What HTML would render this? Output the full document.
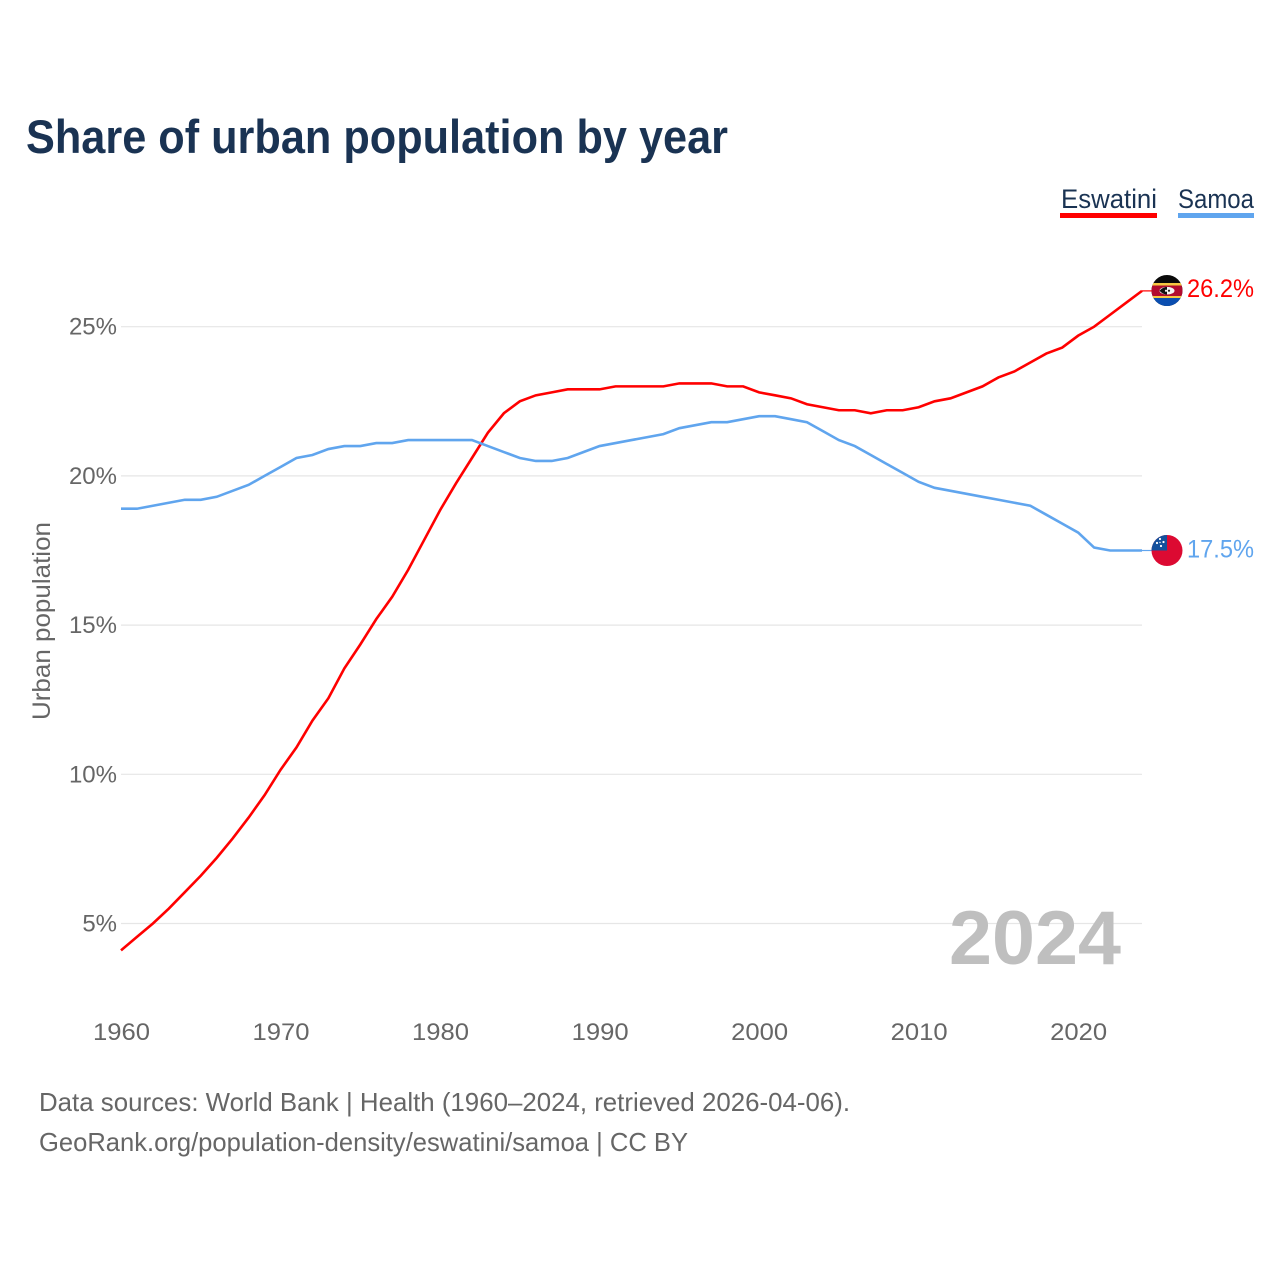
<!DOCTYPE html>
<html>
<head>
<meta charset="utf-8">
<title>Share of urban population by year</title>
<style>
html,body{margin:0;padding:0;background:#fff;width:1280px;height:1280px;overflow:hidden}
svg{display:block}
text{font-family:"Liberation Sans",sans-serif}
</style>
</head>
<body>
<svg id="chart" xmlns="http://www.w3.org/2000/svg" width="1280" height="1280" viewBox="0 0 1280 1280">
  <defs>
    <clipPath id="clip-flag-eswatini"><circle cx="1167" cy="290.5" r="15.5"/></clipPath>
    <clipPath id="clip-flag-samoa"><circle cx="1167" cy="550.5" r="15.5"/></clipPath>
  </defs>
  <rect width="1280" height="1280" fill="#fff"/>
  <text x="26" y="153" font-size="47" font-weight="700" fill="#1a3353" textLength="702" lengthAdjust="spacingAndGlyphs">Share of urban population by year</text>

  <g>
    <g>
      <text x="1061" y="208" font-size="27" fill="#1a3353" textLength="96" lengthAdjust="spacingAndGlyphs">Eswatini</text>
      <rect x="1060" y="213" width="97" height="5" fill="#ff0000"/>
    </g>
    <g>
      <text x="1178" y="208" font-size="27" fill="#1a3353" textLength="76" lengthAdjust="spacingAndGlyphs">Samoa</text>
      <rect x="1178" y="213" width="76" height="5" fill="#60a5ee"/>
    </g>
  </g>

  <g id="grid"></g>
  <g id="y-ticks"></g>
  <g id="x-ticks"></g>
  <text transform="translate(50,621) rotate(-90)" text-anchor="middle" font-size="25" fill="#666" textLength="198" lengthAdjust="spacingAndGlyphs">Urban population</text>
  <text x="949" y="964" font-size="76" font-weight="700" fill="#bfbfbf" textLength="172" lengthAdjust="spacingAndGlyphs">2024</text>
  <g id="series"></g>

  <g clip-path="url(#clip-flag-eswatini)">
    <rect x="1150" y="275" width="34" height="32" fill="#0a0a0a"/>
    <rect x="1150" y="283" width="34" height="2.500" fill="#f5c842"/>
    <rect x="1150" y="285.500" width="34" height="10.500" fill="#b10c2f"/>
    <rect x="1150" y="296" width="34" height="2" fill="#f5c842"/>
    <rect x="1150" y="298" width="34" height="9" fill="#0a4eb0"/>
    <ellipse cx="1167" cy="290.700" rx="7.500" ry="3.800" fill="#f4f4f4"/>
    <path d="M1159.500 290.700Q1163 286.900 1167 286.900V294.500Q1163 294.500 1159.500 290.700Z" fill="#111"/>
    <circle cx="1166" cy="290.700" r="1.100" fill="#f4f4f4"/>
    <circle cx="1169" cy="290.700" r="1.100" fill="#222"/>
  </g>
  <g clip-path="url(#clip-flag-samoa)">
    <rect x="1150" y="534" width="34" height="34" fill="#dc0a32"/>
    <rect x="1150" y="534" width="17" height="16.500" fill="#15509c"/>
    <circle cx="1160" cy="539" r="1.100" fill="#fff"/>
    <circle cx="1163.500" cy="542" r="1.100" fill="#fff"/>
    <circle cx="1157" cy="543" r="1.100" fill="#fff"/>
    <circle cx="1161" cy="546" r="1.100" fill="#fff"/>
    <circle cx="1160" cy="542.500" r="0.700" fill="#fff"/>
  </g>

  <g id="end-labels"></g>

  <text x="39" y="1111" font-size="26" fill="#666" textLength="811" lengthAdjust="spacingAndGlyphs">Data sources: World Bank | Health (1960–2024, retrieved 2026-04-06).</text>
  <text x="39" y="1151" font-size="26" fill="#666" textLength="649" lengthAdjust="spacingAndGlyphs">GeoRank.org/population-density/eswatini/samoa | CC BY</text>
</svg>
<script>
const years = [1960,1961,1962,1963,1964,1965,1966,1967,1968,1969,1970,1971,1972,1973,1974,1975,1976,1977,1978,1979,1980,1981,1982,1983,1984,1985,1986,1987,1988,1989,1990,1991,1992,1993,1994,1995,1996,1997,1998,1999,2000,2001,2002,2003,2004,2005,2006,2007,2008,2009,2010,2011,2012,2013,2014,2015,2016,2017,2018,2019,2020,2021,2022,2023,2024];
const eswatiniValues = [4.1,4.55,5.0,5.5,6.05,6.6,7.2,7.85,8.55,9.3,10.15,10.9,11.8,12.55,13.55,14.35,15.2,15.95,16.85,17.85,18.85,19.75,20.6,21.45,22.1,22.5,22.7,22.8,22.9,22.9,22.9,23.0,23.0,23.0,23.0,23.1,23.1,23.1,23.0,23.0,22.8,22.7,22.6,22.4,22.3,22.2,22.2,22.1,22.2,22.2,22.3,22.5,22.6,22.8,23.0,23.3,23.5,23.8,24.1,24.3,24.7,25.0,25.4,25.8,26.2];
const samoaValues = [18.9,18.9,19.0,19.1,19.2,19.2,19.3,19.5,19.7,20.0,20.3,20.6,20.7,20.9,21.0,21.0,21.1,21.1,21.2,21.2,21.2,21.2,21.2,21.0,20.8,20.6,20.5,20.5,20.6,20.8,21.0,21.1,21.2,21.3,21.4,21.6,21.7,21.8,21.8,21.9,22.0,22.0,21.9,21.8,21.5,21.2,21.0,20.7,20.4,20.1,19.8,19.6,19.5,19.4,19.3,19.2,19.1,19.0,18.7,18.4,18.1,17.6,17.5,17.5,17.5];
const yTickValues = [5,10,15,20,25];
const xTickValues = [1960,1970,1980,1990,2000,2010,2020];
const eswatiniColor = '#ff0000';
const samoaColor = '#60a5ee';

const NS = 'http://www.w3.org/2000/svg';
function xScale(year){ return 121 + (year - 1960) * 15.953; }
function yScale(value){ return 923.5 - (value - 5) * 29.84; }
function make(tag, parent){
  const el = document.createElementNS(NS, tag);
  parent.appendChild(el);
  return el;
}

const grid = document.getElementById('grid');
const yTicks = document.getElementById('y-ticks');
yTickValues.forEach(function(v){
  const line = make('line', grid);
  
  
  line.setAttribute('x1', xScale(1960));
  line.setAttribute('x2', xScale(2024));
  line.setAttribute('y1', yScale(v));
  line.setAttribute('y2', yScale(v));
  line.setAttribute('stroke', '#e6e6e6');
  line.setAttribute('stroke-width', '1.2');
  const label = make('text', yTicks);
  
  
  label.setAttribute('x', 117);
  label.setAttribute('y', yScale(v) + 8);
  label.setAttribute('text-anchor', 'end');
  label.setAttribute('font-size', '24');
  label.setAttribute('fill', '#666');
  label.textContent = v + '%';
});

const xTicks = document.getElementById('x-ticks');
xTickValues.forEach(function(y){
  const label = make('text', xTicks);
  
  
  label.setAttribute('x', xScale(y) + 0.5);
  label.setAttribute('y', 1040);
  label.setAttribute('text-anchor', 'middle');
  label.setAttribute('font-size', '24');
  label.setAttribute('fill', '#666');
  label.setAttribute('textLength', '57');
  label.setAttribute('lengthAdjust', 'spacingAndGlyphs');
  label.textContent = y;
});

const series = document.getElementById('series');
const endLabels = document.getElementById('end-labels');
function pathFor(values){
  return values.map(function(v, i){
    return (i ? 'L' : 'M') + xScale(years[i]).toFixed(2) + ' ' + yScale(v).toFixed(2);
  }).join('');
}

const eswatiniLine = make('path', series);


eswatiniLine.setAttribute('d', pathFor(eswatiniValues));
eswatiniLine.setAttribute('fill', 'none');
eswatiniLine.setAttribute('stroke', eswatiniColor);
eswatiniLine.setAttribute('stroke-width', '2.6');

const samoaLine = make('path', series);


samoaLine.setAttribute('d', pathFor(samoaValues));
samoaLine.setAttribute('fill', 'none');
samoaLine.setAttribute('stroke', samoaColor);
samoaLine.setAttribute('stroke-width', '2.6');

const eswatiniLast = eswatiniValues[eswatiniValues.length - 1];
const samoaLast = samoaValues[samoaValues.length - 1];

const eswatiniConnector = make('line', series);


eswatiniConnector.setAttribute('x1', xScale(2024));
eswatiniConnector.setAttribute('x2', xScale(2024) + 10);
eswatiniConnector.setAttribute('y1', yScale(eswatiniLast));
eswatiniConnector.setAttribute('y2', yScale(eswatiniLast));
eswatiniConnector.setAttribute('stroke', eswatiniColor);
eswatiniConnector.setAttribute('stroke-width', '1.2');

const samoaConnector = make('line', series);


samoaConnector.setAttribute('x1', xScale(2024));
samoaConnector.setAttribute('x2', xScale(2024) + 10);
samoaConnector.setAttribute('y1', yScale(samoaLast));
samoaConnector.setAttribute('y2', yScale(samoaLast));
samoaConnector.setAttribute('stroke', samoaColor);
samoaConnector.setAttribute('stroke-width', '1.2');

const eswatiniLabel = make('text', endLabels);


eswatiniLabel.setAttribute('x', 1254);
eswatiniLabel.setAttribute('y', yScale(eswatiniLast) + 6);
eswatiniLabel.setAttribute('text-anchor', 'end');
eswatiniLabel.setAttribute('font-size', '25');
eswatiniLabel.setAttribute('fill', eswatiniColor);
eswatiniLabel.setAttribute('textLength', '67');
eswatiniLabel.setAttribute('lengthAdjust', 'spacingAndGlyphs');
eswatiniLabel.textContent = eswatiniLast.toFixed(1) + '%';

const samoaLabel = make('text', endLabels);


samoaLabel.setAttribute('x', 1254);
samoaLabel.setAttribute('y', yScale(samoaLast) + 7);
samoaLabel.setAttribute('text-anchor', 'end');
samoaLabel.setAttribute('font-size', '25');
samoaLabel.setAttribute('fill', samoaColor);
samoaLabel.setAttribute('textLength', '67');
samoaLabel.setAttribute('lengthAdjust', 'spacingAndGlyphs');
samoaLabel.textContent = samoaLast.toFixed(1) + '%';
</script>
</body>
</html>
